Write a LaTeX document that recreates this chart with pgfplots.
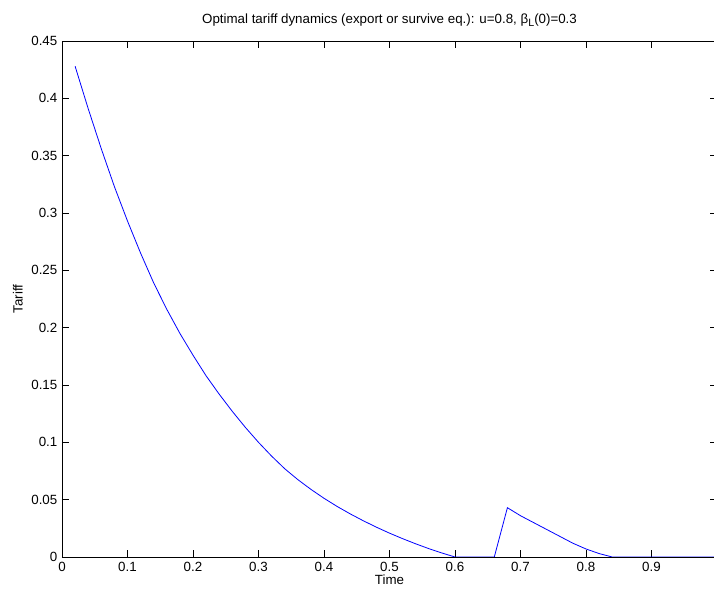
\documentclass[border=0pt,10pt]{standalone}
\usepackage{fontspec}
\setmainfont{Liberation Sans}
\usepackage{pgfplots}
\pgfplotsset{compat=1.18}
\begin{document}
\begin{tikzpicture}
\begin{axis}[
  scale only axis,
  width=491.25pt, height=387pt,
  xmin=0, xmax=1, ymin=0, ymax=0.45,
  xtick={0,0.1,...,1.01},
  ytick={0,0.05,...,0.451},
  xticklabels={0,0.1,0.2,0.3,0.4,0.5,0.6,0.7,0.8,0.9,1},
  yticklabels={0,0.05,0.1,0.15,0.2,0.25,0.3,0.35,0.4,0.45},
  tick align=inside,
  major tick length=5pt,
  axis line style={line width=0.6pt},
  every tick/.style={black, line width=0.5pt},
  /pgf/number format/assume math mode=true,
  ticklabel style={font=\normalsize},
  title={Optimal tariff dynamics (export or survive eq.): u=0.8, β\raisebox{-0.45ex}{\footnotesize L}(0)=0.3},
  title style={at={(axis description cs:0.5,1)}, anchor=base, yshift=7.2pt, inner sep=0pt},
  xlabel={Time},
  xlabel style={at={(axis description cs:0.5,0)}, anchor=base, yshift=-21pt, inner sep=0pt},
  ylabel={Tariff},
  ylabel style={at={(axis description cs:0,0.5)}, anchor=base, yshift=29.5pt, inner sep=0pt},
]
\addplot[blue, line width=0.6pt] coordinates {
(0.02,0.428) (0.04,0.391) (0.06,0.356) (0.08,0.323) (0.10,0.293)
(0.12,0.265) (0.14,0.239) (0.16,0.216) (0.18,0.195) (0.20,0.176)
(0.22,0.158) (0.24,0.142) (0.26,0.127) (0.28,0.113) (0.30,0.100)
(0.32,0.088) (0.34,0.077) (0.36,0.0675) (0.38,0.0590) (0.40,0.0512)
(0.42,0.0441) (0.44,0.0376) (0.46,0.0316) (0.48,0.0260) (0.50,0.0208)
(0.52,0.0160) (0.54,0.0115) (0.56,0.0073) (0.58,0.0035) (0.60,0.000)
(0.62,0) (0.64,0) (0.66,0) (0.68,0.043) (0.70,0.036) (0.72,0.030)
(0.74,0.024) (0.76,0.018) (0.78,0.012) (0.80,0.007) (0.82,0.003)
(0.84,0) (0.86,0) (0.88,0) (0.90,0) (0.92,0) (0.94,0) (0.96,0)
(0.98,0) (1.00,0)
};
\coordinate (SW) at (rel axis cs:0,0);
\end{axis}
\pgfresetboundingbox
\path[use as bounding box] ([shift={(-46.5pt,-26.25pt)}]SW) rectangle ++(535.5pt,444pt);
\end{tikzpicture}
\end{document}
